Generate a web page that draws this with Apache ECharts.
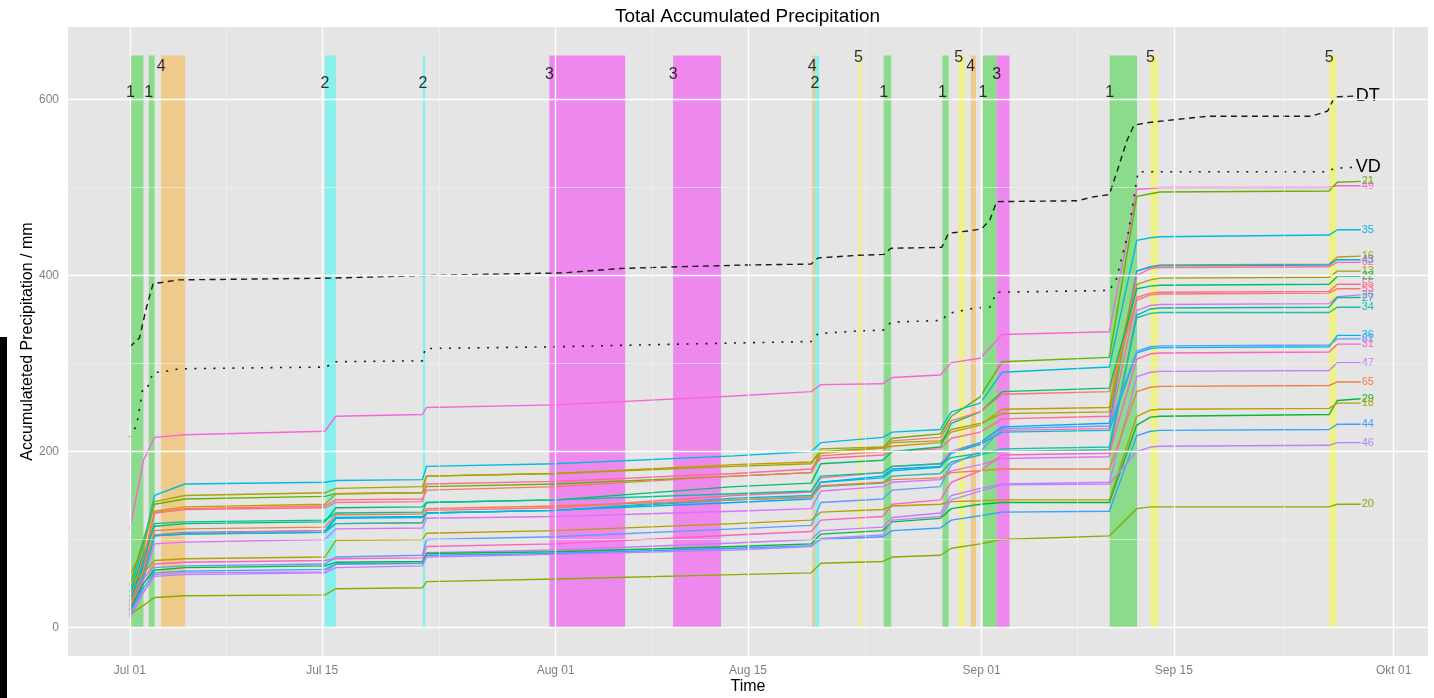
<!DOCTYPE html>
<html><head><meta charset="utf-8">
<script src="https://cdn.jsdelivr.net/npm/echarts@6/dist/echarts.min.js"></script>
<style>html,body{margin:0;padding:0;background:#fff}#c{width:1434px;height:698px}</style>
</head><body><div id="c"></div>
<script>
// ---------- data (days since Jul 01) ----------
const xTickDays = [0, 14, 31, 45, 62, 76, 92];
const xTickLabels = ['Jul 01', 'Jul 15', 'Aug 01', 'Aug 15', 'Sep 01', 'Sep 15', 'Okt 01'];
const yTickValues = [0, 200, 400, 600];

const bandStart = [0.05, 1.38, 2.28, 14.2, 21.33, 30.54, 39.55, 49.68, 49.87, 53.04, 54.88, 59.16, 60.33, 61.22, 62.1, 63.1, 71.33, 74.3, 87.3];
const bandEnd   = [0.99, 1.80, 4.03, 15.0, 21.5, 36.06, 43.03, 49.87, 50.17, 53.25, 55.42, 59.6, 60.81, 61.59, 63.1, 64.04, 73.32, 74.85, 87.83];
const bandType  = [1, 1, 4, 2, 2, 3, 3, 4, 2, 5, 1, 1, 5, 4, 1, 3, 1, 5, 5];
const bandTop = 650;

const dtDays = [0, 0.7, 1.2, 1.7, 2.3, 3.5, 14.5, 21.5, 31.5, 35.7, 40, 45, 49.6, 50.1, 53, 54.9, 55.4, 59.1, 59.6, 61.2, 62.0, 62.6, 63.1, 69.0, 70.0, 71.3, 71.9, 72.6, 73.1, 74.2, 74.8, 78.4, 86.0, 87.2, 87.7, 89.1];
const dtValues = [319, 329, 363, 391, 392, 395, 397, 400, 403, 408, 410, 412, 413, 420, 423, 424, 431, 432, 448, 451, 453, 463, 484, 485, 489, 492, 520, 554, 571, 574, 575, 581, 581, 587, 603, 604];

const vdDays = [0, 0.5, 0.95, 1.3, 1.7, 2.2, 3.6, 14.3, 14.9, 21.3, 21.5, 31, 40, 49.6, 50.1, 53, 54.9, 55.4, 59.1, 59.6, 61.5, 62.6, 63.1, 71.3, 71.8, 72.7, 73.4, 87.2, 87.7, 89.1];
const vdValues = [216, 230, 272, 273, 290, 290, 294, 296, 302, 303, 317, 319, 322, 325, 334, 337, 338, 347, 349, 357, 363, 364, 381, 383, 395, 450, 518, 518, 522, 523];

const knotDays = [0, 1.0, 1.8, 4.0, 14.2, 15.0, 21.3, 21.6, 31, 44, 49.6, 50.3, 54.8, 55.5, 59.0, 59.8, 61.9, 63.5, 71.3, 73.3, 74.3, 75.0, 87.3, 87.9, 89.6];

const st49 = [112,190,216,219,223,240,242,250,253,263,268,276,277,284,287,301,306,333,336,498,499,500,500,502,502];
const st21 = [48,100,140,146,149,152,153,160,163,172,176,200,204,215,220,240,262,302,307,490,493,495,496,506,507];
const st35 = [40,95,150,163,165,167,168,183,186,195,200,210,216,222,225,245,255,290,296,440,443,444,446,452,452];
const st16 = [30,75,132,137,140,152,153,172,175,185,188,198,204,206,210,222,230,248,250,405,410,412,413,421,422];
const st43 = [25,70,105,108,110,125,126,130,133,142,146,165,172,180,183,200,210,228,232,405,410,411,412,418,418];
const st62 = [20,65,130,134,136,142,143,163,166,175,180,192,196,200,203,215,222,237,240,400,408,409,410,415,415];
const st13 = [60,90,143,150,153,158,160,172,175,183,186,203,205,210,212,225,232,243,245,390,395,397,398,405,405];
const st22 = [35,85,115,118,120,136,137,142,145,160,164,186,190,200,205,232,245,268,272,385,388,389,390,399,399];
const st55 = [22,60,105,107,110,118,119,133,136,150,154,170,176,183,186,200,208,224,226,375,380,381,382,390,390];
const st53 = [30,80,130,135,138,145,146,156,160,172,176,195,200,212,216,235,245,265,268,372,378,379,380,385,385];
const st26 = [15,55,95,97,100,112,113,124,126,132,135,155,160,165,168,178,185,192,194,360,366,367,368,376,378];
const st27 = [28,75,118,120,122,130,131,142,145,152,155,172,176,183,186,193,198,200,202,355,362,363,364,375,375];
const st34 = [25,62,104,106,108,118,119,130,133,145,148,160,164,172,175,188,196,203,205,352,357,358,358,364,364];
const st36 = [18,58,104,106,108,124,125,130,133,147,150,165,170,178,182,198,208,222,224,312,317,318,319,332,332];
const st81 = [12,50,68,70,72,80,82,100,103,112,116,142,146,156,160,185,200,226,229,314,319,320,321,328,328];
const st31 = [20,55,72,74,76,78,79,92,95,105,109,122,126,140,145,165,178,196,198,305,311,312,313,322,322];
const st47 = [10,40,60,62,63,72,73,85,88,96,100,110,114,125,130,150,158,163,165,285,290,291,292,301,301];
const st65 = [25,65,110,112,114,128,129,135,138,145,148,161,165,168,170,176,178,180,180,268,273,274,275,279,279];
const st29 = [20,50,65,68,70,74,75,84,86,92,95,106,110,120,124,135,140,142,142,230,239,240,242,258,260];
const st18 = [50,62,76,78,80,99,100,107,110,118,122,131,134,138,140,143,144,145,145,240,247,248,249,255,255];
const st44 = [15,45,62,64,66,72,73,82,84,90,93,100,103,110,113,122,127,131,132,218,223,224,225,231,231];
const st46 = [14,40,58,60,62,68,70,80,83,88,92,101,105,122,126,145,155,162,163,200,205,206,207,210,210];
const st20 = [15,25,34,36,37,44,45,52,55,60,62,73,75,80,82,90,95,100,104,135,137,137,137,140,140];

const stationNames  = ['49','21','35','16','43','62','13','22','55','53','26','27','34','36','81','31','47','65','29','18','44','46','20'];
const stationValues = [st49, st21, st35, st16, st43, st62, st13, st22, st55, st53, st26, st27, st34, st36, st81, st31, st47, st65, st29, st18, st44, st46, st20];
const stationColors = ['#F766D9','#64B200','#00BCD8','#C49A00','#00A9FF','#FF6A98','#A3A500','#00BE67','#FF6C91','#F8766D','#DB72FB','#00C19A','#1DBEA8','#00B8E7','#619CFF','#FF61C3','#C77CFF','#EE8044','#00BA38','#B79F00','#35A2FF','#B983FF','#8AAB00'];

// ---------- chart ----------
const FONT = '"Liberation Sans", Arial, Helvetica, sans-serif';
const bandColors = {1:'rgba(47,209,47,0.5)', 2:'rgba(43,251,243,0.5)', 3:'rgba(247,43,247,0.5)', 4:'rgba(247,177,47,0.5)', 5:'rgba(251,251,43,0.5)'};
const xMinorDays = [];
for (let i = 0; i + 1 < xTickDays.length; i++) xMinorDays.push((xTickDays[i] + xTickDays[i + 1]) / 2);
const yMinorValues = [100, 300, 500];

const gridLines = [];
xMinorDays.forEach(d => gridLines.push({xAxis: d, lineStyle: {color: '#F2F2F2', width: 0.6, type: 'solid'}}));
yMinorValues.forEach(v => gridLines.push({yAxis: v, lineStyle: {color: '#F2F2F2', width: 0.6, type: 'solid'}}));
xTickDays.forEach(d => gridLines.push({xAxis: d, lineStyle: {color: '#FFFFFF', width: 1.3, type: 'solid'}}));
yTickValues.forEach(v => gridLines.push({yAxis: v, lineStyle: {color: '#FFFFFF', width: 1.3, type: 'solid'}}));

const bandAreas = bandStart.map((s, i) => [
  {xAxis: s, yAxis: 0, itemStyle: {color: bandColors[bandType[i]]}},
  {xAxis: bandEnd[i], yAxis: bandTop}
]);

const series = [];
series.push({type: 'line', data: [], z: 1, silent: true,
  markLine: {symbol: ['none', 'none'], silent: true, animation: false, label: {show: false}, data: gridLines}});
series.push({type: 'line', data: [], z: 2, silent: true,
  markArea: {silent: true, animation: false, data: bandAreas}});

stationNames.forEach((name, i) => {
  series.push({
    name: name, type: 'line', z: 3, showSymbol: false, silent: true,
    data: knotDays.map((d, k) => [d, stationValues[i][k]]),
    lineStyle: {color: stationColors[i], width: 1.4},
    itemStyle: {color: stationColors[i]},
    endLabel: {show: true, formatter: name, color: stationColors[i], fontSize: 11, fontFamily: FONT, distance: 1}
  });
});

series.push({
  name: 'DT', type: 'line', z: 4, showSymbol: false, silent: true,
  data: dtDays.map((d, k) => [d, dtValues[k]]),
  lineStyle: {color: '#1A1A1A', width: 1.4, type: [6, 4.5]},
  itemStyle: {color: '#000'},
  endLabel: {show: true, formatter: 'DT', color: '#000', fontSize: 18, fontFamily: FONT, distance: 2}
});
series.push({
  name: 'VD', type: 'line', z: 4, showSymbol: false, silent: true,
  data: vdDays.map((d, k) => [d, vdValues[k]]),
  lineStyle: {color: '#1A1A1A', width: 1.6, type: [2, 7.5]},
  itemStyle: {color: '#000'},
  endLabel: {show: true, formatter: 'VD', color: '#000', fontSize: 18, fontFamily: FONT, distance: 2}
});
series.push({
  type: 'scatter', z: 5, silent: true, symbolSize: 0,
  data: bandStart.map((s, i) => [s, 598 + 10 * bandType[i], String(bandType[i])]),
  label: {show: true, position: 'inside', formatter: p => p.data[2], color: '#000', fontSize: 16, fontFamily: FONT}
});

const option = {
  animation: false,
  backgroundColor: '#FFFFFF',
  grid: {left: 68, right: 6, top: 27, bottom: 42, show: true, backgroundColor: '#E5E5E5', borderWidth: 0, outerBoundsMode: 'none', containLabel: false},
  xAxis: {
    type: 'value', min: -4.5, max: 94.5,
    name: 'Time', nameLocation: 'middle', nameGap: 23, nameMoveOverlap: false,
    nameTextStyle: {color: '#000', fontSize: 16, fontFamily: FONT},
    axisLine: {show: false},
    axisTick: {show: true, customValues: xTickDays, length: 4, lineStyle: {color: '#7F7F7F', width: 1}},
    axisLabel: {customValues: xTickDays, formatter: v => xTickLabels[xTickDays.indexOf(v)] || '', color: '#7F7F7F', fontSize: 12, fontFamily: FONT, margin: 9},
    splitLine: {show: false}
  },
  yAxis: {
    type: 'value', min: -32.5, max: 682.5,
    name: 'Accumulateted Precipitation / mm', nameLocation: 'middle', nameGap: 32, nameMoveOverlap: false,
    nameTextStyle: {color: '#000', fontSize: 16, fontFamily: FONT},
    axisLine: {show: false},
    axisTick: {show: true, customValues: yTickValues, length: 4, lineStyle: {color: '#7F7F7F', width: 1}},
    axisLabel: {customValues: yTickValues, color: '#7F7F7F', fontSize: 12, fontFamily: FONT, margin: 9},
    splitLine: {show: false}
  },
  graphic: [
    {type: 'text', x: 747.5, y: 17, style: {text: 'Total Accumulated Precipitation', fill: '#000', fontSize: 19, fontFamily: FONT, textAlign: 'center', textVerticalAlign: 'middle', align: 'center', verticalAlign: 'middle'}},
    {type: 'rect', shape: {x: 0, y: 337, width: 7, height: 361}, style: {fill: '#000'}}
  ],
  series: series
};
const chart = echarts.init(document.getElementById('c'), null, {renderer: 'canvas'});
chart.setOption(option);
</script></body></html>
